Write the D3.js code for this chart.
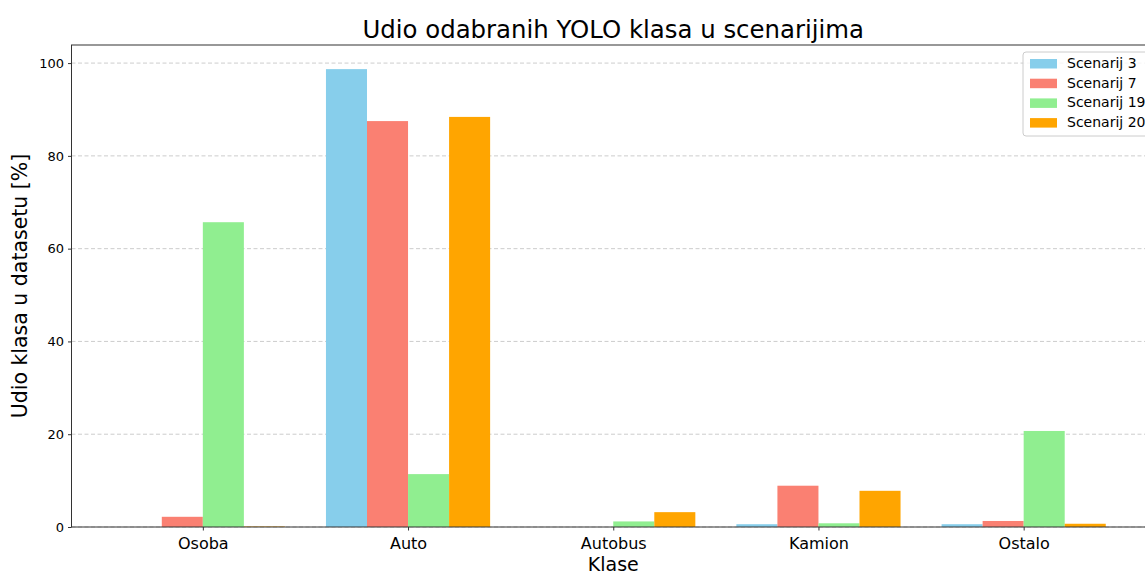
<!DOCTYPE html>
<html><head><meta charset="utf-8">
<script src="https://cdn.jsdelivr.net/npm/d3@7"></script>
<style>body{margin:0;background:#fff}svg{display:block;font-family:"DejaVu Sans",sans-serif}</style>
</head><body><svg id="c" width="1145" height="574"></svg>
<script>
const categories = ["Osoba","Auto","Autobus","Kamion","Ostalo"];
const seriesNames = ["Scenarij 3","Scenarij 7","Scenarij 19","Scenarij 20"];
const s3  = [0, 98.7, 0, 0.6, 0.6];
const s7  = [2.2, 87.5, 0, 8.9, 1.3];
const s19 = [65.7, 11.4, 1.2, 0.8, 20.7];
const s20 = [0.1, 88.4, 3.2, 7.8, 0.7];
const yTicks = [0,20,40,60,80,100];
const colors = ["#87CEEB","#FA8072","#90EE90","#FFA500"];
const series = [s3,s7,s19,s20];

const svg = d3.select("#c");
const L=71.5, R=1155, T=45, B=527;
const x = d3.scaleLinear().domain([-0.64, 4.64]).range([L,R]);
const y = d3.scaleLinear().domain([0, 103.9]).range([B,T]);
const bw = 0.2;

// grid
svg.append("g").selectAll("line").data(yTicks).join("line")
  .attr("x1",L).attr("x2",R).attr("y1",d=>y(d)).attr("y2",d=>y(d))
  .attr("stroke","#b0b0b0").attr("stroke-opacity",0.7).attr("stroke-dasharray","4,2.5").attr("stroke-width",0.9);

// bars
series.forEach((s,si)=>{
  svg.append("g").selectAll("rect").data(s).join("rect")
    .attr("x",(d,i)=>x(i+(si-2)*bw))
    .attr("width",(d,i)=>x(i+(si-1)*bw)-x(i+(si-2)*bw))
    .attr("y",d=>y(d)).attr("height",d=>y(0)-y(d))
    .attr("fill",colors[si]);
});

// axes
const yAxis = d3.axisLeft(y).tickValues(yTicks).tickSize(3.5).tickPadding(4);
const gy = svg.append("g").attr("transform",`translate(${L},0)`).call(yAxis);
gy.select(".domain").remove();
gy.selectAll("text").attr("font-size",13).attr("fill","#000").attr("font-family","DejaVu Sans");
gy.selectAll("line").attr("stroke","#333");
const xAxis = d3.axisBottom(x).tickValues(d3.range(categories.length)).tickFormat(i=>categories[i]).tickSize(3.5).tickPadding(7);
const gx = svg.append("g").attr("transform",`translate(0,${B})`).call(xAxis);
gx.select(".domain").remove();
gx.selectAll("text").attr("font-size",16).attr("fill","#000").attr("font-family","DejaVu Sans");
gx.selectAll("line").attr("stroke","#333");

// spines
svg.append("rect").attr("x",L).attr("y",T).attr("width",R-L).attr("height",B-T)
  .attr("fill","none").attr("stroke","#333").attr("stroke-width",1);

// labels
svg.append("text").attr("x",(L+R)/2).attr("y",38).attr("text-anchor","middle")
  .attr("font-size",24.4).text("Udio odabranih YOLO klasa u scenarijima");
svg.append("text").attr("x",(L+R)/2).attr("y",571).attr("text-anchor","middle")
  .attr("font-size",19).text("Klase");
svg.append("text").attr("transform",`translate(27,${(T+B)/2}) rotate(-90)`).attr("text-anchor","middle")
  .attr("font-size",20.5).text("Udio klasa u datasetu [%]");

// legend
const lg = svg.append("g").attr("transform","translate(1023,52)");
lg.append("rect").attr("x",0).attr("y",0).attr("width",140).attr("height",84).attr("rx",3)
  .attr("fill","#fff").attr("fill-opacity",0.8).attr("stroke","#ccc");
seriesNames.forEach((n,i)=>{
  lg.append("rect").attr("x",7).attr("y",7+i*19.7).attr("width",27).attr("height",9.5).attr("fill",colors[i]);
  lg.append("text").attr("x",44).attr("y",16+i*19.7).attr("font-size",14).text(n);
});
</script></body></html>
